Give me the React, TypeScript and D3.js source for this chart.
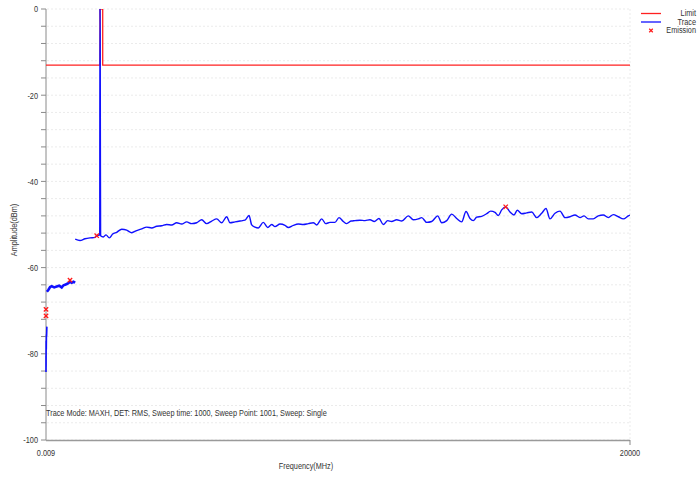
import { useMemo } from 'react';
import * as d3 from 'd3';

type Pt = [number, number]; // [MHz, dBm]

// 9 kHz – 30 MHz sweep
const lowBand: Pt[] = [
  [0.009, -84.2], [0.5, -80.5], [2, -83], [5, -77], [10, -79], [15, -75.5], [20, -76], [30, -73.7],
];

// 30 MHz – 1 GHz sweep
const midBand: Pt[] = [
  [30, -65.6], [79, -65.2], [140, -64.5], [195, -64.3], [280, -64.6], [366, -64.4],
  [450, -64.2], [538, -64.6], [600, -64.1], [651, -64.0], [710, -63.8], [764, -63.6],
  [822, -63.3], [880, -63.5], [940, -63.3], [1000, -63.5],
];

// 1 GHz – 20 GHz sweep
const highFreq = [
  1000, 1164, 1336, 1507, 1678, 1736, 1840, 1848, 1856, 1862, 1870, 1962, 2055, 2168, 2284,
  2421, 2593, 2764, 2935, 3106, 3277, 3449, 3620, 3791, 3962, 4134, 4305, 4476, 4647, 4818,
  4990, 5161, 5332, 5503, 5675, 5846, 6017, 6188, 6301, 6473, 6644, 6815, 6952, 7045, 7158,
  7271, 7442, 7593, 7729, 7842, 8014, 8185, 8298, 8469, 8640, 8812, 8983, 9154, 9271, 9442,
  9579, 9726, 9897, 10034, 10182, 10298, 10445, 10582, 10753, 10925, 11096, 11243, 11404,
  11551, 11702, 11839, 12010, 12182, 12408, 12579, 12750, 12866, 13038, 13209, 13414, 13551,
  13723, 13894, 14065, 14236, 14384, 14521, 14634, 14750, 14921, 15092, 15229, 15377, 15490,
  15606, 15743, 15890, 16027, 16140, 16291, 16462, 16634, 16805, 16976, 17123, 17260, 17432,
  17603, 17774, 17945, 18116, 18288, 18425, 18572, 18743, 18914, 19086, 19257, 19428, 19599,
  19771, 19942, 20000,
];
const highLevel = [
  -53.4, -53.7, -53.3, -53.1, -53.0, -52.6, -52.4, 2, -6.5, -30, -52.6, -52.9, -52.4, -53.1, -52.2,
  -51.8, -51.1, -51.3, -51.9, -51.4, -51.0, -50.6, -50.8, -50.4, -50.3, -50.0, -50.1, -49.6, -49.9, -49.4,
  -49.8, -49.6, -48.9, -49.8, -49.2, -48.7, -49.6, -48.2, -49.6, -49.4, -49.2, -49.0, -47.9, -50.1, -50.6,
  -50.8, -49.5, -50.7, -50.0, -50.5, -49.9, -50.2, -50.7, -50.2, -49.9, -50.0, -49.8, -49.6, -50.1, -48.7,
  -49.8, -49.5, -49.5, -48.4, -49.3, -49.8, -49.2, -49.1, -49.0, -49.1, -48.9, -49.3, -48.6,
  -50.0, -49.1, -49.3, -48.9, -49.2, -48.0, -48.9, -48.7, -48.4, -49.5, -49.3, -48.0, -49.6,
  -49.1, -47.6, -48.6, -49.4, -47.0, -48.6, -49.1, -48.3, -48.1, -47.5, -46.9, -47.2, -47.9,
  -46.6, -45.9, -47.1, -47.8, -46.7, -47.5, -47.3, -47.1, -48.4, -47.4, -46.3, -48.7, -47.4,
  -46.9, -48.4, -48.2, -47.8, -48.4, -48.0, -48.7, -48.7, -48.0, -47.8, -48.4, -47.7, -48.2,
  -48.7, -48.0, -47.8,
];

const limitLine: Pt[] = [
  [0.009, -13], [1850, -13], [1850, 0], [1942, 0], [1942, -13], [20000, -13],
];

const emissions: Pt[] = [
  [0.15, -69.7], [0.5, -71.2], [822, -62.9], [1736, -52.6], [15743, -45.9],
];

const yMajor = [0, -20, -40, -60, -80, -100];
const xTickLabels = [0.009, 20000];
const note = 'Trace Mode: MAXH, DET: RMS, Sweep time: 1000, Sweep Point: 1001, Sweep: Single';

const W = 697;
const H = 477;
const FONT = '"Liberation Sans", Arial, sans-serif';
const SQUEEZE = 0.77; // the source uses a narrow Arial

// narrow text helper: horizontal squeeze around the anchor point
function Txt({
  x,
  y,
  anchor = 'start',
  rotate = 0,
  children,
}: {
  x: number;
  y: number;
  anchor?: 'start' | 'middle' | 'end';
  rotate?: number;
  children: React.ReactNode;
}) {
  return (
    <text
      transform={`translate(${x},${y}) rotate(${rotate}) scale(${SQUEEZE},1)`}
      dy="0.35em"
      textAnchor={anchor}
      fontSize={9.5}
      fill="#333"
    >
      {children}
    </text>
  );
}

export default function App(): React.ReactNode {
  const x = d3.scaleLinear().domain([0.009, 20000]).range([46, 630]);
  const y = d3.scaleLinear().domain([-100, 0]).range([440, 9]);

  const { line, smooth } = useMemo(() => {
    const line = d3
      .line<Pt>()
      .x((d) => x(d[0]))
      .y((d) => y(d[1]));
    const smooth = d3
      .line<Pt>()
      .x((d) => x(d[0]))
      .y((d) => y(d[1]))
      .curve(d3.curveMonotoneX);
    return { line, smooth };
  }, []);

  const highBand: Pt[] = highFreq.map((f, i) => [f, highLevel[i]]);
  const gridVals = d3.range(0, -101, -4);

  return (
    <svg
      width={W}
      height={H}
      style={{ position: 'absolute', left: 0, top: 0, background: '#fff' }}
      fontFamily={FONT}
    >
      <defs>
        <clipPath id="plot">
          <rect x={44} y={9} width={586} height={431} />
        </clipPath>
      </defs>

      {gridVals.map((v) => (
        <line
          key={v}
          x1={47}
          x2={630}
          y1={y(v)}
          y2={y(v)}
          stroke="#ebebeb"
          strokeDasharray="2 2"
        />
      ))}
      <line x1={630} x2={630} y1={9} y2={440} stroke="#ebebeb" strokeDasharray="2 2" />

      {/* axes */}
      <line x1={46} x2={46} y1={9} y2={440} stroke="#8a8a8a" />
      {gridVals.map((v) => (
        <line key={v} x1={41} x2={46} y1={y(v)} y2={y(v)} stroke="#8a8a8a" />
      ))}
      <line x1={46} x2={630} y1={440.5} y2={440.5} stroke="#9a9a9a" strokeWidth={1.6} />
      <line x1={630} x2={630} y1={440} y2={445} stroke="#8a8a8a" />
      {yMajor.map((v) => (
        <Txt key={v} x={38} y={y(v)} anchor="end">
          {v}
        </Txt>
      ))}
      {xTickLabels.map((v) => (
        <Txt key={v} x={x(v)} y={453} anchor="middle">
          {v}
        </Txt>
      ))}
      <Txt x={306} y={466} anchor="middle">
        Frequency(MHz)
      </Txt>
      <Txt x={14} y={230} anchor="middle" rotate={-90}>
        Amplitude(dBm)
      </Txt>
      <Txt x={46} y={413}>
        {note}
      </Txt>

      <g clipPath="url(#plot)">
        <path d={line(limitLine) ?? ''} fill="none" stroke="#ff2020" strokeWidth={1.3} />
        <path d={line(lowBand) ?? ''} fill="none" stroke="#1010ff" strokeWidth={1.6} />
        <path d={line(midBand) ?? ''} fill="none" stroke="#1010ff" strokeWidth={2.6} />
        <path d={smooth(highBand) ?? ''} fill="none" stroke="#1010ff" strokeWidth={1.4} />
      </g>
      {emissions.map((d, i) => (
        <path
          key={i}
          d={d3.symbol(d3.symbolX, 14)() ?? ''}
          transform={`translate(${x(d[0])},${y(d[1])})`}
          stroke="#ff1a1a"
          strokeWidth={1.3}
          fill="none"
        />
      ))}

      {/* legend */}
      <line x1={641} x2={661} y1={13.5} y2={13.5} stroke="#ff2020" strokeWidth={1.3} />
      <Txt x={696} y={13} anchor="end">
        Limit
      </Txt>
      <line x1={641} x2={661} y1={22} y2={22} stroke="#1010ff" strokeWidth={1.3} />
      <Txt x={696} y={21.5} anchor="end">
        Trace
      </Txt>
      <path
        d={d3.symbol(d3.symbolX, 10)() ?? ''}
        transform="translate(651,30.5)"
        stroke="#ff1a1a"
        strokeWidth={1.2}
        fill="none"
      />
      <Txt x={696} y={30} anchor="end">
        Emission
      </Txt>
    </svg>
  );
}
